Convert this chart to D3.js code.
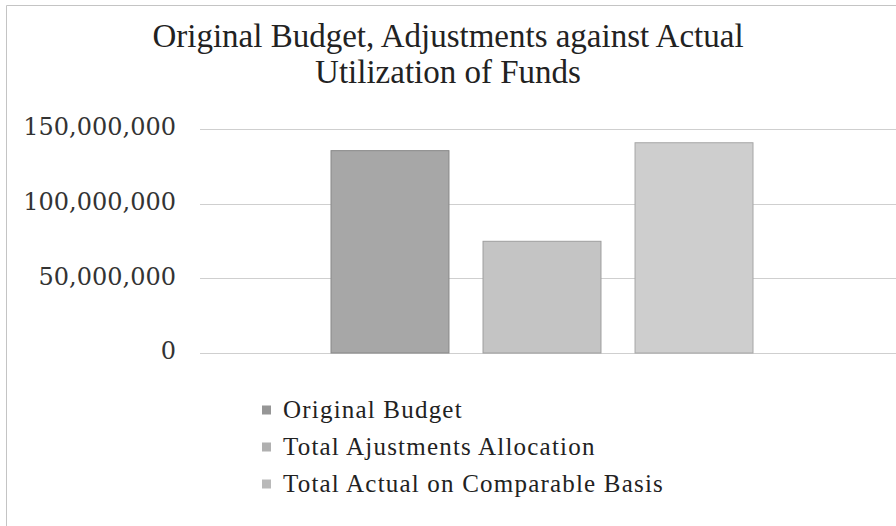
<!DOCTYPE html>
<html>
<head>
<meta charset="utf-8">
<script src="https://cdn.jsdelivr.net/npm/d3@7/dist/d3.min.js"></script>
<style>
    html, body { margin: 0; padding: 0; background: #fff; }
    svg { display: block; }
</style>
</head>
<body>
<div id="chart"></div>
<script>
// chart data
const titleLines = ['Original Budget, Adjustments against Actual', 'Utilization of Funds'];
const seriesNames = ['Original Budget', 'Total Ajustments Allocation', 'Total Actual on Comparable Basis'];
const seriesValues = [135500000, 74800000, 140800000];
const seriesColors = ['#a7a7a7', '#c4c4c4', '#cecece'];
const yTicks = [0, 50000000, 100000000, 150000000];

const width = 896,
    height = 526;

const svg = d3.select('#chart').append('svg')
    .attr('width', width)
    .attr('height', height);

svg.append('rect')
    .attr('width', width)
    .attr('height', height)
    .attr('fill', '#fff');

// outer border of chart (cropped at right/bottom)
svg.append('path')
    .attr('d', 'M6.5,' + height + 'V5.5H' + width)
    .attr('fill', 'none')
    .attr('stroke', '#c4c4c4')
    .attr('stroke-width', 1);

// title
svg.append('text')
    .attr('x', 448)
    .attr('y', 47)
    .attr('text-anchor', 'middle')
    .attr('font-family', 'Liberation Serif, serif')
    .attr('font-size', 33)
    .attr('fill', '#222')
    .selectAll('tspan')
    .data(titleLines)
    .enter().append('tspan')
    .attr('x', 448)
    .attr('dy', (d, i) => i === 0 ? 0 : 36)
    .text(d => d);

const plot = { left: 200, right: 896, top: 129, bottom: 353 };

const y = d3.scaleLinear()
    .domain([0, 150000000])
    .range([plot.bottom, plot.top]);

const x = d3.scaleBand()
    .domain(seriesNames)
    .range([331, 753])
    .paddingInner(0.224)
    .paddingOuter(0);

// gridlines
svg.append('g')
    .selectAll('line')
    .data(yTicks)
    .enter().append('line')
    .attr('x1', plot.left)
    .attr('x2', plot.right)
    .attr('y1', d => Math.round(y(d)) + 0.5)
    .attr('y2', d => Math.round(y(d)) + 0.5)
    .attr('stroke', '#cfcfcf')
    .attr('stroke-width', 1);

// y axis labels
const axisY = d3.axisLeft(y)
    .tickValues(yTicks)
    .tickSize(0)
    .tickPadding(0)
    .tickFormat(d3.format(','));

const gy = svg.append('g')
    .attr('transform', 'translate(176, -2)')
    .call(axisY);

gy.select('.domain').remove();
gy.selectAll('text')
    .attr('font-family', 'DejaVu Serif, serif')
    .attr('font-size', 24)
    .attr('fill', '#333');

// bars
svg.append('g')
    .selectAll('rect')
    .data(seriesNames)
    .enter().append('rect')
    .attr('x', d => x(d))
    .attr('y', (d, i) => y(seriesValues[i]))
    .attr('width', x.bandwidth())
    .attr('height', (d, i) => y(0) - y(seriesValues[i]))
    .attr('fill', (d, i) => seriesColors[i])
    .attr('stroke', (d, i) => d3.color(seriesColors[i]).darker(0.6))
    .attr('stroke-width', 1);

// legend
const legend = svg.append('g')
    .selectAll('g')
    .data(seriesNames)
    .enter().append('g')
    .attr('transform', (d, i) => 'translate(262, ' + (410 + i * 37) + ')');

legend.append('rect')
    .attr('x', 0)
    .attr('y', -4.5)
    .attr('width', 9)
    .attr('height', 9)
    .attr('fill', (d, i) => d3.color(seriesColors[i]).darker(0.3));

legend.append('text')
    .attr('x', 21)
    .attr('y', 8)
    .attr('font-family', 'Liberation Serif, serif')
    .attr('font-size', 25)
    .attr('letter-spacing', 1.2)
    .attr('fill', '#222')
    .text(d => d);
</script>
</body>
</html>
